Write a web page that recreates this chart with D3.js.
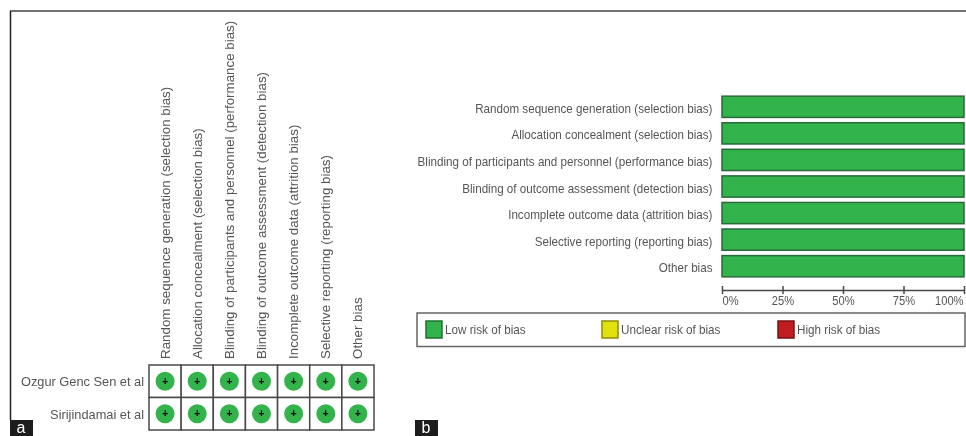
<!doctype html>
<html>
<head>
<meta charset="utf-8">
<title>Risk of bias</title>
<script src="https://d3js.org/d3.v7.min.js"></script>
<style>
  html, body { margin: 0; padding: 0; background: #fff; }
  svg { display: block; }
  text { font-family: "Liberation Sans", Arial, sans-serif; }
</style>
</head>
<body>
<svg id="chart" width="966" height="436"></svg>
<script>
const domains = [
  "Random sequence generation (selection bias)",
  "Allocation concealment (selection bias)",
  "Blinding of participants and personnel (performance bias)",
  "Blinding of outcome assessment (detection bias)",
  "Incomplete outcome data (attrition bias)",
  "Selective reporting (reporting bias)",
  "Other bias"
]
const summaryLabels = [
  "Random sequence generation (selection bias)",
  "Allocation concealment (selection bias)",
  "Blinding of participants and personnel (performance bias)",
  "Blinding of outcome assessment (detection bias)",
  "Incomplete outcome data (attrition bias)",
  "Selective reporting (reporting bias)",
  "Other bias"
]
const studies = ["Ozgur Genc Sen et al", "Sirijindamai et al"]
const ozgurJudgements = ["+", "+", "+", "+", "+", "+", "+"]
const sirijindamaiJudgements = ["+", "+", "+", "+", "+", "+", "+"]
const lowRisk = [100, 100, 100, 100, 100, 100, 100]
const percentTicks = [0, 25, 50, 75, 100]
const legendLabels = ["Low risk of bias", "Unclear risk of bias", "High risk of bias"]
const legendColors = ["#30b34c", "#e2e010", "#c01b20"]

const TEXT = "#555"
const LINE = "#4a4a4a"
const svg = d3.select("#chart")
const blur = svg.append("defs").append("filter").attr("id", "soft")
blur.append("feGaussianBlur").attr("stdDeviation", 0.45)
const root = svg.append("g").attr("filter", "url(#soft)")

// outer rules of the figure
root.append("line").attr("x1", 10).attr("x2", 966).attr("y1", 11).attr("y2", 11)
  .attr("stroke", "#444").attr("stroke-width", 1.5)
root.append("line").attr("x1", 10.5).attr("x2", 10.5).attr("y1", 11).attr("y2", 420)
  .attr("stroke", "#222").attr("stroke-width", 1.5)

// panel a: judgement grid
const matrix = [ozgurJudgements, sirijindamaiJudgements]
const colX = d3.scaleBand().domain(domains).range([149, 374])
const rowY = d3.scaleBand().domain(studies).range([365, 430])

const grid = root.append("g")
grid.selectAll(".row").data(studies).enter().append("g").attr("class", "row")
  .each(function (study, r) {
    const g = d3.select(this)
    const cells = g.selectAll("g").data(domains).enter().append("g")
      .attr("transform", d => "translate(" + (colX(d) + colX.bandwidth() / 2) + "," + (rowY(study) + rowY.bandwidth() / 2) + ")")
    cells.append("rect")
      .attr("x", -colX.bandwidth() / 2).attr("y", -rowY.bandwidth() / 2)
      .attr("width", colX.bandwidth()).attr("height", rowY.bandwidth())
      .attr("fill", "#fff").attr("stroke", LINE).attr("stroke-width", 1.5)
    cells.append("circle").attr("r", 9.5).attr("fill", "#30b34c")
    cells.append("text")
      .text((d, i) => matrix[r][i])
      .attr("text-anchor", "middle").attr("y", 3.5)
      .attr("font-size", 10).attr("font-weight", "bold").attr("fill", "#000")
  })

root.selectAll(".study").data(studies).enter().append("text").attr("class", "study")
  .text(d => d)
  .attr("x", 144)
  .attr("y", d => rowY(d) + rowY.bandwidth() / 2 + 5)
  .attr("text-anchor", "end").attr("font-size", 12.8).attr("fill", TEXT)

root.selectAll(".domain").data(domains).enter().append("text").attr("class", "domain")
  .text(d => d)
  .attr("transform", d => "translate(" + (colX(d) + colX.bandwidth() / 2 + 4.5) + ",359) rotate(-90)")
  .attr("font-size", 13.35).attr("fill", TEXT)

// panel b: summary bars
const x = d3.scaleLinear().domain([0, 100]).range([722, 964])
const y = d3.scaleBand().domain(summaryLabels).range([93.5, 279.5]).paddingInner(0.2).paddingOuter(0.1)

root.selectAll(".bar").data(lowRisk).enter().append("rect").attr("class", "bar")
  .attr("x", x(0))
  .attr("y", (d, i) => y(summaryLabels[i]))
  .attr("width", d => x(d) - x(0))
  .attr("height", y.bandwidth())
  .attr("fill", "#30b34c").attr("stroke", "#2a6a3a").attr("stroke-width", 1.5)

// the labels in panel b are set narrow, so squeeze them sideways
root.selectAll(".summary").data(summaryLabels).enter().append("text").attr("class", "summary")
  .text(d => d)
  .attr("transform", d => "translate(712.5," + (y(d) + y.bandwidth() / 2 + 6) + ") scale(0.9,1)")
  .attr("text-anchor", "end").attr("font-size", 12.95).attr("fill", TEXT)

const axis = d3.axisBottom(x).tickValues(percentTicks).tickFormat(d => d + "%").tickSize(0).tickPadding(6)
const axisG = root.append("g").attr("transform", "translate(0,290)").call(axis)
axisG.select(".domain").attr("stroke", LINE).attr("stroke-width", 1.5)
axisG.selectAll(".tick").append("line").attr("y1", -4).attr("y2", 4)
  .attr("stroke", LINE).attr("stroke-width", 1.5)
axisG.selectAll(".tick text")
  .attr("font-size", 12.4).attr("fill", TEXT)
  .attr("font-family", '"Liberation Sans", Arial, sans-serif')
  .attr("text-anchor", d => d == 0 ? "start" : d == 100 ? "end" : "middle")
  .attr("transform", "scale(0.9,1)")
  .attr("x", d => (d == 100 ? -1 : 0) / 0.9)

// legend
root.append("rect").attr("x", 417).attr("y", 313).attr("width", 548).attr("height", 33.5)
  .attr("fill", "#fff").attr("stroke", "#666").attr("stroke-width", 1.5)
const legendX = d3.scalePoint().domain(legendLabels).range([426, 778])
const legend = root.selectAll(".key").data(legendLabels).enter().append("g").attr("class", "key")
  .attr("transform", d => "translate(" + legendX(d) + ",321)")
legend.append("rect").attr("width", 16).attr("height", 17)
  .attr("fill", (d, i) => legendColors[i])
  .attr("stroke", (d, i) => d3.color(legendColors[i]).darker(1.3)).attr("stroke-width", 1.5)
legend.append("text").text(d => d)
  .attr("transform", "translate(19,13) scale(0.9,1)")
  .attr("font-size", 13).attr("fill", TEXT)

// panel letters
const panels = ["a", "b"]
const panelX = d3.scalePoint().domain(panels).range([10, 415])
const tag = svg.selectAll(".panel").data(panels).enter().append("g").attr("class", "panel")
  .attr("transform", d => "translate(" + panelX(d) + ",420)")
tag.append("rect").attr("width", 23).attr("height", 16).attr("fill", "#1d1d1d")
tag.append("text").text(d => d).attr("x", 11).attr("y", 12.5)
  .attr("text-anchor", "middle").attr("font-size", 16).attr("fill", "#fff")
</script>
</body>
</html>
